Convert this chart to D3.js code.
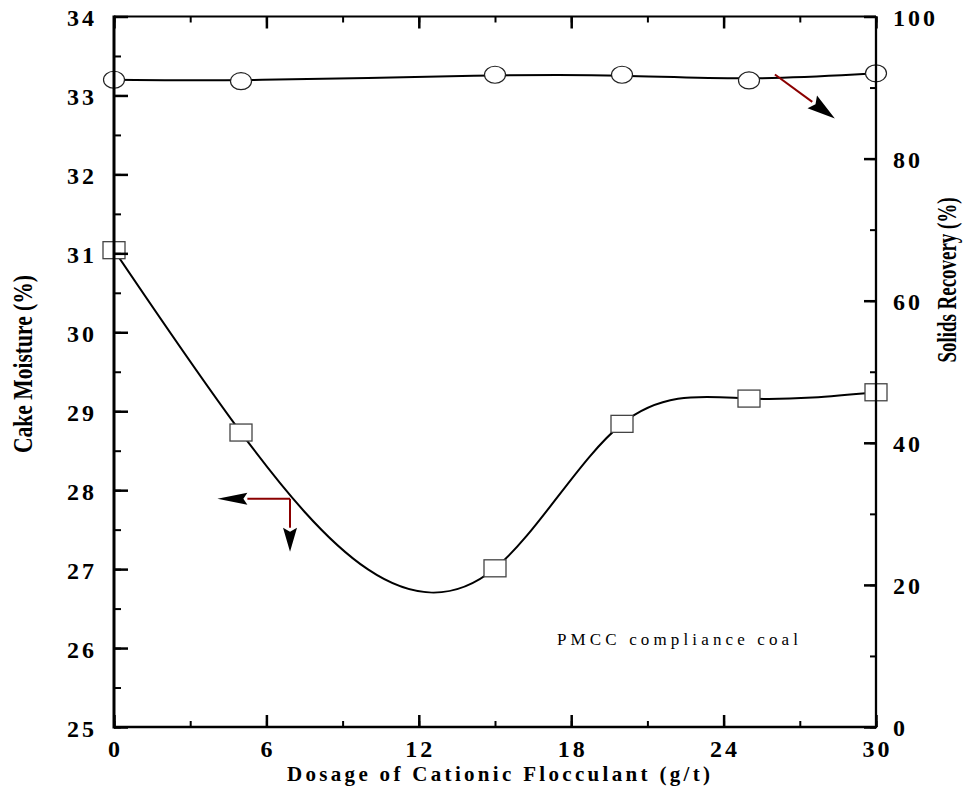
<!DOCTYPE html>
<html>
<head>
<meta charset="utf-8">
<script src="https://cdn.jsdelivr.net/npm/d3@7"></script>
<style>
  body { margin: 0; background: #fff; }
  text { font-family: "Liberation Serif", "Times New Roman", serif; }
</style>
</head>
<body>
<script>
// chart values
var dosage = [0, 5, 15, 20, 25, 30];
var moisture = [31.04, 28.73, 27.01, 28.84, 29.16, 29.24];
var recovery = [91.1, 90.9, 91.8, 91.8, 91.0, 92.0];

var xTicks = [0, 6, 12, 18, 24, 30];
var leftTicks = [25, 26, 27, 28, 29, 30, 31, 32, 33, 34];
var rightTicks = [0, 20, 40, 60, 80, 100];

// arrow annotations in data units: [x, y] start and end
var leftArrowH = [[6.93, 27.89], [4.07, 27.89]];
var leftArrowV = [[6.93, 27.89], [6.93, 27.22]];
var rightArrow = [[26.02, 91.84], [28.38, 85.65]];

var width = 968,
    height = 803;

var svg = d3.select('body')
  .append('svg')
  .attr('width', width)
  .attr('height', height);

var x = d3.scaleLinear().domain([0, 30]).range([114, 876]);
var yL = d3.scaleLinear().domain([25, 34]).range([727, 16.5]);
var yR = d3.scaleLinear().domain([0, 100]).range([727, 16.5]);

var plotTop = yL.range()[1], plotBottom = yL.range()[0];
var plotLeft = x.range()[0], plotRight = x.range()[1];

// natural cubic spline in x (the plotting program smooths y as a function of x,
// d3.curveNatural works per index so it can't follow the uneven dosage steps)
function curveNaturalX(context) {
  var xs, ys;
  return {
    areaStart: function() {},
    areaEnd: function() {},
    lineStart: function() { xs = []; ys = []; },
    point: function(px, py) { xs.push(+px); ys.push(+py); },
    lineEnd: function() {
      var n = xs.length;
      if (!n) return;
      context.moveTo(xs[0], ys[0]);
      if (n < 3) { if (n === 2) context.lineTo(xs[1], ys[1]); return; }
      var h = [], s = [];
      for (var i = 0; i < n - 1; i++) {
        h.push(xs[i + 1] - xs[i]);
        s.push((ys[i + 1] - ys[i]) / h[i]);
      }
      // second derivatives, natural ends (Thomas algorithm)
      var M = new Array(n).fill(0);
      var cp = [], dp = [];
      for (var k = 1; k < n - 1; k++) {
        var a = h[k - 1], b = 2 * (h[k - 1] + h[k]), c = h[k];
        var d = 6 * (s[k] - s[k - 1]);
        if (k === 1) { cp[k] = c / b; dp[k] = d / b; }
        else {
          var den = b - a * cp[k - 1];
          cp[k] = c / den;
          dp[k] = (d - a * dp[k - 1]) / den;
        }
      }
      for (var j = n - 2; j >= 1; j--) {
        M[j] = dp[j] - (j < n - 2 ? cp[j] * M[j + 1] : 0);
      }
      var m = [];
      for (var q = 0; q < n - 1; q++) m.push(s[q] - h[q] * (2 * M[q] + M[q + 1]) / 6);
      m.push(s[n - 2] + h[n - 2] * (M[n - 2] + 2 * M[n - 1]) / 6);
      for (var t = 0; t < n - 1; t++) {
        context.bezierCurveTo(
          xs[t] + h[t] / 3, ys[t] + m[t] * h[t] / 3,
          xs[t + 1] - h[t] / 3, ys[t + 1] - m[t + 1] * h[t] / 3,
          xs[t + 1], ys[t + 1]);
      }
    }
  };
}

// minor ticks
function minorAxis(axis, vals, size) {
  return axis.tickValues(vals).tickSize(size).tickFormat('');
}
var xMinor = d3.range(0, 31, 3);
var lMinor = d3.range(25, 34.01, 0.5);
var rMinor = d3.range(0, 101, 10);

function styleAxis(g, w) {
  g.select('.domain').remove();
  g.selectAll('.tick line').attr('stroke', '#000').attr('stroke-width', w);
}

// data lines
var moistLine = d3.line()
  .x(function(d, i) { return x(dosage[i]); })
  .y(function(d) { return yL(d); })
  .curve(curveNaturalX);

var recLine = d3.line()
  .x(function(d, i) { return x(dosage[i]); })
  .y(function(d) { return yR(d); })
  .curve(d3.curveBasis);

svg.append('path')
  .attr('d', moistLine(moisture))
  .attr('fill', 'none')
  .attr('stroke', '#000')
  .attr('stroke-width', 2);

svg.append('path')
  .attr('d', recLine(recovery))
  .attr('fill', 'none')
  .attr('stroke', '#000')
  .attr('stroke-width', 2);

// markers
svg.selectAll('rect.sq')
  .data(moisture)
  .enter().append('rect')
  .attr('class', 'sq')
  .attr('x', function(d, i) { return x(dosage[i]) - 11; })
  .attr('y', function(d) { return yL(d) - 8.5; })
  .attr('width', 22)
  .attr('height', 17)
  .attr('fill', '#fff')
  .attr('stroke', '#444')
  .attr('stroke-width', 1.3);

svg.selectAll('ellipse.ci')
  .data(recovery)
  .enter().append('ellipse')
  .attr('class', 'ci')
  .attr('cx', function(d, i) { return x(dosage[i]); })
  .attr('cy', function(d) { return yR(d); })
  .attr('rx', 10.5)
  .attr('ry', 8.5)
  .attr('fill', '#fff')
  .attr('stroke', '#222')
  .attr('stroke-width', 1.2);

// axes drawn over the markers
var gAx = svg.append('g').attr('class', 'axes');
// bottom
gAx.append('g').attr('transform', 'translate(0,' + plotBottom + ')')
  .call(minorAxis(d3.axisBottom(x), xMinor, -6)).call(styleAxis, 2);
gAx.append('g').attr('transform', 'translate(0,' + plotBottom + ')')
  .call(minorAxis(d3.axisBottom(x), xTicks, -12)).call(styleAxis, 2.5);
// top
gAx.append('g').attr('transform', 'translate(0,' + plotTop + ')')
  .call(minorAxis(d3.axisTop(x), xMinor, -6)).call(styleAxis, 2);
gAx.append('g').attr('transform', 'translate(0,' + plotTop + ')')
  .call(minorAxis(d3.axisTop(x), xTicks, -12)).call(styleAxis, 2.5);
// left
gAx.append('g').attr('transform', 'translate(' + plotLeft + ',0)')
  .call(minorAxis(d3.axisLeft(yL), lMinor, -7)).call(styleAxis, 2);
gAx.append('g').attr('transform', 'translate(' + plotLeft + ',0)')
  .call(minorAxis(d3.axisLeft(yL), leftTicks, -14)).call(styleAxis, 2.5);
// right
gAx.append('g').attr('transform', 'translate(' + plotRight + ',0)')
  .call(minorAxis(d3.axisRight(yR), rMinor, -6)).call(styleAxis, 2);
gAx.append('g').attr('transform', 'translate(' + plotRight + ',0)')
  .call(minorAxis(d3.axisRight(yR), rightTicks, -12)).call(styleAxis, 2.5);

var frame = svg.append('g');
frame.append('line').attr('x1', plotLeft).attr('x2', plotLeft)
  .attr('y1', plotTop - 1).attr('y2', plotBottom + 1.5)
  .attr('stroke', '#000').attr('stroke-width', 3);
frame.append('line').attr('x1', plotLeft).attr('x2', plotRight)
  .attr('y1', plotBottom).attr('y2', plotBottom)
  .attr('stroke', '#000').attr('stroke-width', 2.6);
frame.append('line').attr('x1', plotLeft).attr('x2', plotRight)
  .attr('y1', plotTop).attr('y2', plotTop)
  .attr('stroke', '#000').attr('stroke-width', 2);
frame.append('line').attr('x1', plotRight).attr('x2', plotRight)
  .attr('y1', plotTop).attr('y2', plotBottom + 1.3)
  .attr('stroke', '#000').attr('stroke-width', 2.3);

// tick labels
var lab = svg.append('g')
  .style('font-size', '24px')
  .style('font-weight', 'bold')
  .style('letter-spacing', '3px');

lab.selectAll('text.xl').data(xTicks).enter().append('text')
  .attr('x', function(d) { return x(d) + 1.5; })
  .attr('y', plotBottom + 30)
  .attr('text-anchor', 'middle')
  .text(function(d) { return d; });

lab.selectAll('text.ll').data(leftTicks).enter().append('text')
  .attr('x', plotLeft - 17)
  .attr('y', function(d) { return yL(d) + 9.5; })
  .attr('text-anchor', 'end')
  .text(function(d) { return d; });

lab.selectAll('text.rl').data(rightTicks).enter().append('text')
  .attr('x', plotRight + 17)
  .attr('y', function(d) { return yR(d) + 9; })
  .attr('text-anchor', 'start')
  .text(function(d) { return d; });

// axis titles (tall, narrow lettering)
svg.append('text')
  .attr('transform', 'translate(32,364) rotate(-90)')
  .attr('text-anchor', 'middle')
  .attr('textLength', 178)
  .attr('lengthAdjust', 'spacingAndGlyphs')
  .style('font-size', '27px')
  .style('font-weight', 'bold')
  .text('Cake Moisture (%)');

svg.append('text')
  .attr('transform', 'translate(956,280) rotate(-90)')
  .attr('text-anchor', 'middle')
  .attr('textLength', 165)
  .attr('lengthAdjust', 'spacingAndGlyphs')
  .style('font-size', '27px')
  .style('font-weight', 'bold')
  .text('Solids Recovery (%)');

svg.append('text')
  .attr('x', 287)
  .attr('y', 781)
  .attr('textLength', 423)
  .style('font-size', '21px')
  .style('font-weight', 'bold')
  .text('Dosage of Cationic Flocculant (g/t)');

svg.append('text')
  .attr('x', 557)
  .attr('y', 645)
  .attr('textLength', 241)
  .style('font-size', '17px')
  .text('PMCC compliance coal');

// arrows: dark red shaft, black filled head
function arrow(pts, yScale, headLen, headHalf) {
  var x0 = x(pts[0][0]), y0 = yScale(pts[0][1]);
  var x1 = x(pts[1][0]), y1 = yScale(pts[1][1]);
  var dx = x1 - x0, dy = y1 - y0;
  var len = Math.sqrt(dx * dx + dy * dy);
  var ux = dx / len, uy = dy / len;
  var bx = x1 - ux * headLen, by = y1 - uy * headLen;
  svg.append('line')
    .attr('x1', x0).attr('y1', y0)
    .attr('x2', bx).attr('y2', by)
    .attr('stroke', '#8b0000')
    .attr('stroke-width', 2);
  svg.append('path')
    .attr('d', 'M' + x1 + ',' + y1 +
      'L' + (bx - uy * headHalf) + ',' + (by + ux * headHalf) +
      'L' + (bx + ux * 4) + ',' + (by + uy * 4) +
      'L' + (bx + uy * headHalf) + ',' + (by - ux * headHalf) + 'Z')
    .attr('fill', '#000');
}

arrow(leftArrowH, yL, 30, 6);
arrow(leftArrowV, yL, 24, 7);
arrow(rightArrow, yR, 28, 8);
</script>
</body>
</html>
